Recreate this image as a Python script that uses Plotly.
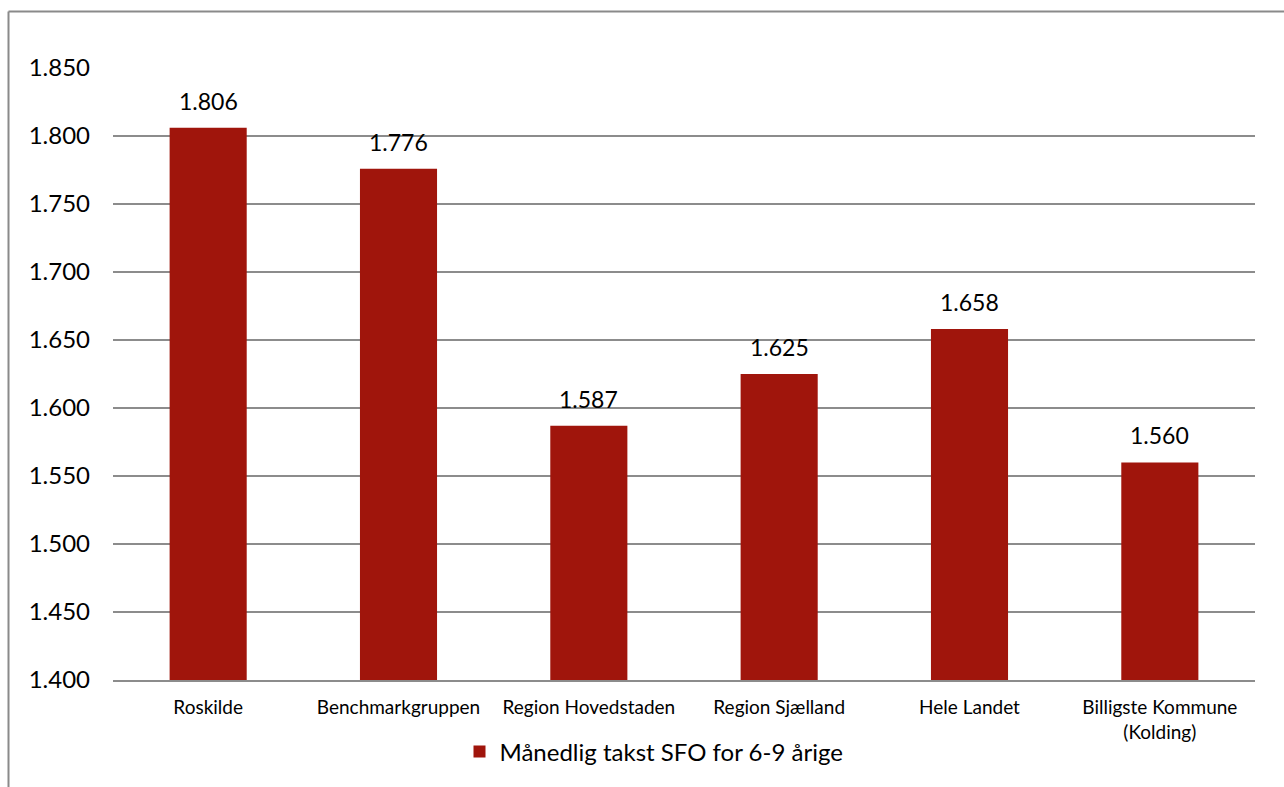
import plotly.graph_objects as go

categories = ["Roskilde", "Benchmarkgruppen", "Region Hovedstaden", "Region Sjælland",
              "Hele Landet", "Billigste Kommune<br>(Kolding)"]
values = [1806, 1776, 1587, 1625, 1658, 1560]
series_name = "Månedlig takst SFO for 6-9 årige"
y_ticks = [1400, 1450, 1500, 1550, 1600, 1650, 1700, 1750, 1800, 1850]

W, H = 1284, 787
L, R, T, B = 113, 1255, 68, 680

def px_x(p):
    return (p - L) / (R - L)

def px_y(p):
    return (B - p) / (B - T)

FONT = "Lato"
bar_color = "#A0150C"

def fmt(v):
    return f"{v:,}".replace(",", ".")

fig = go.Figure()
fig.add_trace(go.Bar(
    x=categories, y=values, name=series_name,
    marker=dict(color=bar_color, line=dict(width=0)),
    showlegend=True,
))

for c, v in zip(categories, values):
    fig.add_annotation(x=c, y=v, text=fmt(v), showarrow=False, yanchor="middle",
                       yshift=27, font=dict(family=FONT, size=23, color="#000000"))

fig.update_layout(
    width=W, height=H,
    margin=dict(l=L, r=W - R, t=T, b=H - B, autoexpand=False),
    paper_bgcolor="white", plot_bgcolor="white",
    separators=",.",
    bargap=0.595,
    font=dict(family=FONT, color="#000000"),
    xaxis=dict(showgrid=False, showline=True, linecolor="#8c8c8c", linewidth=2,
               ticks="", ticklabelstandoff=9,
               tickfont=dict(family=FONT, size=19, color="#000000")),
    yaxis=dict(range=[1400, 1850], tickvals=y_ticks, tickformat=",d",
               showgrid=True, gridcolor="#8c8c8c", gridwidth=2,
               zeroline=False, showline=False, ticks="", ticklen=0,
               ticklabelstandoff=22,
               tickfont=dict(family=FONT, size=24, color="#000000")),
    legend=dict(orientation="h", x=px_x(654), xanchor="center", y=px_y(752), yanchor="middle",
                font=dict(family=FONT, size=24, color="#000000"),
                itemwidth=30, bgcolor="rgba(0,0,0,0)"),
    shapes=[
        dict(type="line", xref="paper", yref="paper", x0=px_x(8.5), x1=px_x(1300),
             y0=px_y(11.5), y1=px_y(11.5), line=dict(color="#8a8a8a", width=2)),
        dict(type="line", xref="paper", yref="paper", x0=px_x(8.5), x1=px_x(8.5),
             y0=px_y(11.5), y1=px_y(800), line=dict(color="#8a8a8a", width=2)),
    ],
)

fig.write_html("out.html", config={"displayModeBar": False},
               post_script="document.body.style.margin='0';document.body.style.overflow='hidden';")
